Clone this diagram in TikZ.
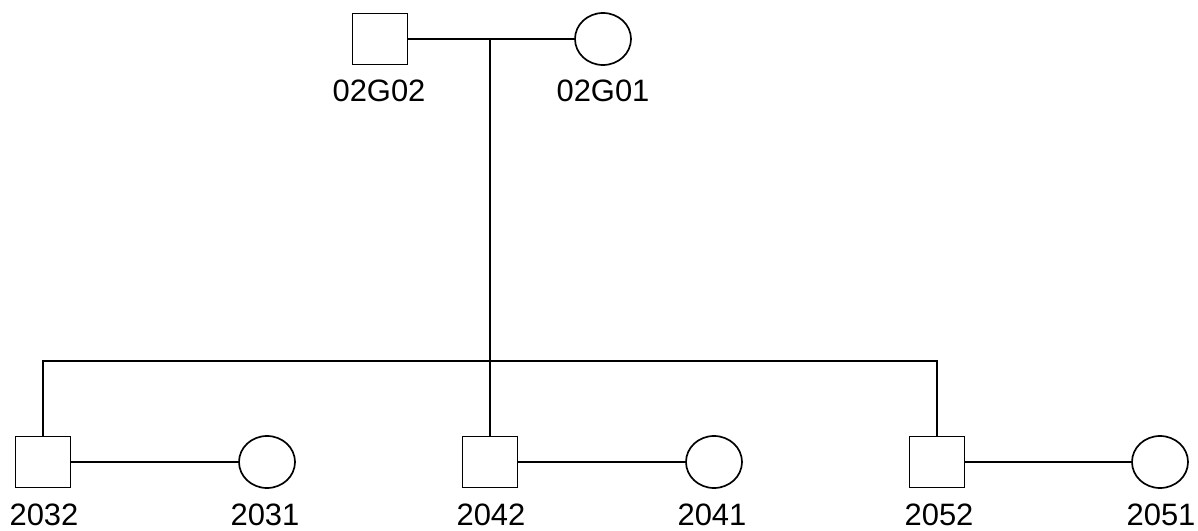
\documentclass[tikz,border=0pt]{standalone}
\usepackage{fontspec}
\setmainfont{Liberation Sans}
\usepackage{tikz}
\usetikzlibrary{positioning,shapes.geometric}

\begin{document}
\begin{tikzpicture}[x=0.025cm,y=-0.025cm,line width=1.2pt,
        male/.style={rectangle,draw,minimum width=1.38cm,minimum height=1.28cm,inner sep=0},
        female/.style={ellipse,draw,minimum width=1.4cm,minimum height=1.3cm,inner sep=0},
        lab/.style={inner sep=0,anchor=base,font=\fontsize{22}{26}\selectfont}]
        \useasboundingbox (0,0) rectangle (1198,531);
        % parents
        \node[male] (f1) at (380,39) {};
        \node[female] (f2) at (603,39) {};
        \node[lab] (f1l) at (379,102) {02G02};
        \node[lab] (f2l) at (603,102) {02G01};
        \coordinate (m1) at (490,39);
        \draw (f1.east) -- (f2.west);
        % children and spouses
        \node[male] (c1) at (43,462) {};
        \node[female] (s1) at (267,462) {};
        \node[male] (c2) at (490,462) {};
        \node[female] (s2) at (714,462) {};
        \node[male] (c3) at (937,462) {};
        \node[female] (s3) at (1160,462) {};
        \node[lab] (c1l) at (44,525) {2032};
        \node[lab] (s1l) at (265,525) {2031};
        \node[lab] (c2l) at (491,525) {2042};
        \node[lab] (s2l) at (712,525) {2041};
        \node[lab] (c3l) at (939,525) {2052};
        \node[lab] (s3l) at (1161,525) {2051};
        \coordinate (sib) at (490,361);
        \draw (m1) -- (c2.north);
        \draw (c1.north) |- (sib) -| (c3.north);
        \draw (c1.east) -- (s1.west);
        \draw (c2.east) -- (s2.west);
        \draw (c3.east) -- (s3.west);
    \end{tikzpicture}
\end{document}
